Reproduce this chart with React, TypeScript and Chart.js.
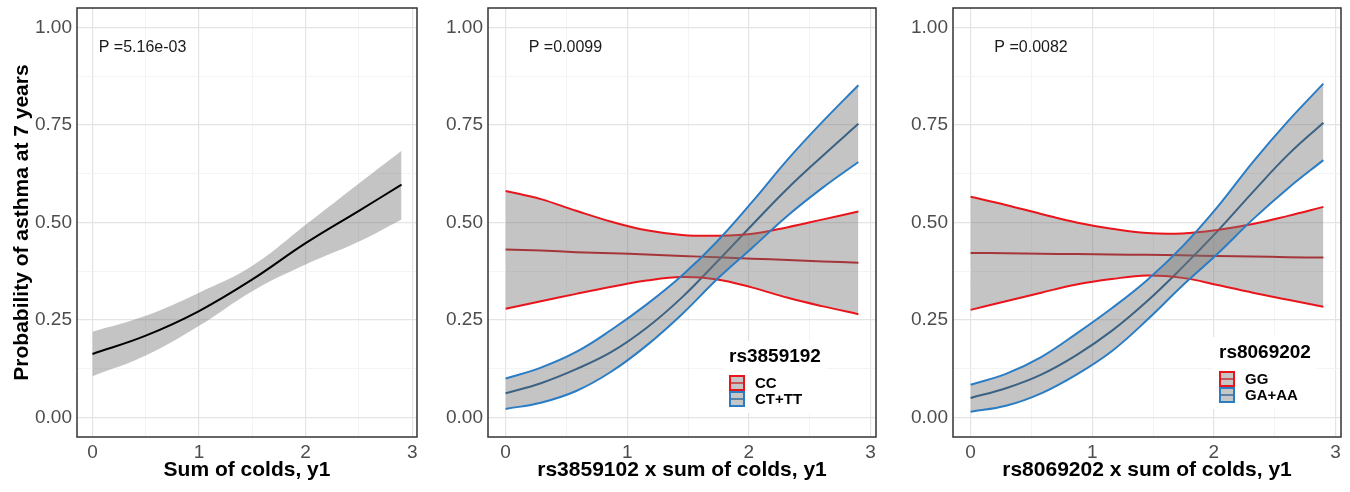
import React, { useEffect, useRef } from "react";
import { Chart, registerables } from "chart.js";

Chart.register(...registerables);

const FONT = '"Liberation Sans", Arial, Helvetica, sans-serif';

// ---------- axes ----------
const Y_MAJOR = [0, 0.25, 0.5, 0.75, 1];
const Y_MINOR = [0.125, 0.375, 0.625, 0.875];
const Y_TICK_LABELS = ["0.00", "0.25", "0.50", "0.75", "1.00"];
const X_MAJOR = [0, 1, 2, 3];
const X_MINOR = [0.5, 1.5, 2.5];
const X_TICK_LABELS = ["0", "1", "2", "3"];

const Y_TITLE = "Probability of asthma at 7 years";
const X_TITLES = [
  "Sum of colds, y1",
  "rs3859102 x sum of colds, y1",
  "rs8069202 x sum of colds, y1",
];
const P_LABELS = ["P =5.16e-03", "P =0.0099", "P =0.0082"];
const P_X = [0.059, 0.19, 0.195];
const P_Y = [0.949, 0.949, 0.949];

// ---------- panel 1 ----------
const P1_X = [0, 0.5, 1, 1.5, 2, 2.5, 2.9];
const P1_MEAN = [0.163, 0.21, 0.273, 0.354, 0.447, 0.53, 0.597];
const P1_UPPER = [0.22, 0.261, 0.32, 0.389, 0.494, 0.6, 0.684];
const P1_LOWER = [0.106, 0.159, 0.235, 0.324, 0.392, 0.451, 0.508];

// ---------- panels 2 & 3 ----------
const X_VALUES = [0, 0.29, 0.58, 0.87, 1.16, 1.45, 1.74, 2.03, 2.32, 2.61, 2.9];

const LEGEND_TITLE_2 = "rs3859192";
const GROUPS_2 = ["CC", "CT+TT"];
const P2_CC_MEAN = [0.431, 0.428, 0.424, 0.421, 0.418, 0.414, 0.411, 0.407, 0.404, 0.4, 0.397];
const P2_CC_UPPER = [0.581, 0.56, 0.53, 0.502, 0.48, 0.468, 0.466, 0.471, 0.488, 0.508, 0.528];
const P2_CC_LOWER = [0.279, 0.298, 0.317, 0.335, 0.351, 0.36, 0.354, 0.333, 0.307, 0.285, 0.265];
const P2_CT_MEAN = [0.062, 0.088, 0.124, 0.168, 0.23, 0.308, 0.4, 0.495, 0.588, 0.672, 0.753];
const P2_CT_UPPER = [0.1, 0.128, 0.168, 0.225, 0.29, 0.364, 0.452, 0.554, 0.662, 0.76, 0.852];
const P2_CT_LOWER = [0.022, 0.038, 0.068, 0.118, 0.185, 0.265, 0.355, 0.436, 0.518, 0.59, 0.655];

const LEGEND_TITLE_3 = "rs8069202";
const GROUPS_3 = ["GG", "GA+AA"];
const P3_GG_MEAN = [0.422, 0.421, 0.42, 0.419, 0.418, 0.417, 0.416, 0.414, 0.413, 0.411, 0.41];
const P3_GG_UPPER = [0.566, 0.545, 0.522, 0.5, 0.484, 0.473, 0.472, 0.481, 0.496, 0.517, 0.54];
const P3_GG_LOWER = [0.276, 0.298, 0.32, 0.341, 0.355, 0.364, 0.358, 0.34, 0.32, 0.302, 0.284];
const P3_GA_MEAN = [0.05, 0.075, 0.11, 0.16, 0.222, 0.298, 0.385, 0.478, 0.578, 0.674, 0.756];
const P3_GA_UPPER = [0.084, 0.112, 0.155, 0.215, 0.28, 0.352, 0.438, 0.54, 0.655, 0.76, 0.856];
const P3_GA_LOWER = [0.015, 0.03, 0.062, 0.11, 0.17, 0.25, 0.338, 0.42, 0.508, 0.588, 0.66];

// ---------- styles ----------
const RED = "#e8161c";
const BLUE = "#2a7dc5";
const RED_MEAN = "#c80c12";
const BLUE_MEAN = "#14568f";
const BAND = "rgba(115,115,115,0.42)";
const KEY_FILL = "#c6c6c6";
const TICK_COLOR = "#4d4d4d";
const GRID_MAJOR = "#e4e4e4";
const GRID_MINOR = "#f1f1f1";

const pts = (xs: number[], ys: number[]) => xs.map((x, i) => ({ x, y: ys[i] }));

const lineDs = (data: any[], color: string, width: number, order: number, fill: any = false) => ({
  data,
  borderColor: color,
  borderWidth: width,
  backgroundColor: BAND,
  fill,
  order,
  pointRadius: 0,
  tension: 0.4,
});

function groupDatasets(xs: number[], a: number[][], b: number[][]) {
  // a / b = [mean, upper, lower]
  return [
    lineDs(pts(xs, a[0]), RED_MEAN, 2, 6),
    lineDs(pts(xs, b[0]), BLUE_MEAN, 2, 5),
    lineDs(pts(xs, a[1]), RED, 2, 4, 3),
    lineDs(pts(xs, a[2]), RED, 2, 3),
    lineDs(pts(xs, b[1]), BLUE, 2, 2, 5),
    lineDs(pts(xs, b[2]), BLUE, 2, 1),
  ];
}

type Legend = { title: string; labels: string[]; colors: string[]; mid: string[]; dx: number; dy: number };
type PanelCfg = {
  left: number;
  width: number;
  yAxisWidth: number;
  padRight: number;
  yTitle?: string;
  xTitle: string;
  pText: string;
  pX: number;
  pY: number;
  datasets: any[];
  legend?: Legend;
};

const PANELS: PanelCfg[] = [
  {
    left: 0,
    width: 432,
    yAxisWidth: 77,
    padRight: 15,
    yTitle: Y_TITLE,
    xTitle: X_TITLES[0],
    pText: P_LABELS[0],
    pX: P_X[0],
    pY: P_Y[0],
    datasets: [
      lineDs(pts(P1_X, P1_UPPER), "rgba(0,0,0,0)", 0, 3, 1),
      lineDs(pts(P1_X, P1_LOWER), "rgba(0,0,0,0)", 0, 2),
      lineDs(pts(P1_X, P1_MEAN), "#000000", 2, 1),
    ],
  },
  {
    left: 432,
    width: 460,
    yAxisWidth: 56,
    padRight: 16,
    xTitle: X_TITLES[1],
    pText: P_LABELS[1],
    pX: P_X[1],
    pY: P_Y[1],
    datasets: groupDatasets(
      X_VALUES,
      [P2_CC_MEAN, P2_CC_UPPER, P2_CC_LOWER],
      [P2_CT_MEAN, P2_CT_UPPER, P2_CT_LOWER]
    ),
    legend: { title: LEGEND_TITLE_2, labels: GROUPS_2, colors: [RED, BLUE], mid: [RED_MEAN, BLUE_MEAN], dx: 241, dy: 349 },
  },
  {
    left: 892,
    width: 458,
    yAxisWidth: 61,
    padRight: 9,
    xTitle: X_TITLES[2],
    pText: P_LABELS[2],
    pX: P_X[2],
    pY: P_Y[2],
    datasets: groupDatasets(
      X_VALUES,
      [P3_GG_MEAN, P3_GG_UPPER, P3_GG_LOWER],
      [P3_GA_MEAN, P3_GA_UPPER, P3_GA_LOWER]
    ),
    legend: { title: LEGEND_TITLE_3, labels: GROUPS_3, colors: [RED, BLUE], mid: [RED_MEAN, BLUE_MEAN], dx: 266, dy: 345 },
  },
];

function Panel({ cfg }: { cfg: PanelCfg }) {
  const ref = useRef<HTMLCanvasElement | null>(null);

  useEffect(() => {
    if (!ref.current) return;

    const decor = {
      id: "decor",
      afterDraw(chart: any) {
        const { ctx, chartArea: a, scales } = chart;
        ctx.save();
        // P value text
        ctx.font = `16px ${FONT}`;
        ctx.fillStyle = "#1a1a1a";
        ctx.textAlign = "left";
        ctx.textBaseline = "middle";
        ctx.fillText(cfg.pText, scales.x.getPixelForValue(cfg.pX), scales.y.getPixelForValue(cfg.pY));

        // legend
        const lg = cfg.legend;
        if (lg) {
          const left = a.left + lg.dx;
          const ty = a.top + lg.dy;
          ctx.font = `bold 19px ${FONT}`;
          const tw = ctx.measureText(lg.title).width;
          const key = 16;
          const keyTop = ty + 18;
          ctx.fillStyle = "#ffffff";
          ctx.fillRect(left - 6, ty - 16, tw + 12, 16 + 18 + key * lg.labels.length + 6);
          ctx.fillStyle = "#000000";
          ctx.fillText(lg.title, left, ty);
          lg.labels.forEach((lab, i) => {
            const y0 = keyTop + i * key;
            ctx.fillStyle = KEY_FILL;
            ctx.fillRect(left, y0, key, key);
            ctx.strokeStyle = lg.mid[i];
            ctx.globalAlpha = 0.6;
            ctx.lineWidth = 2;
            ctx.beginPath();
            ctx.moveTo(left, y0 + key / 2);
            ctx.lineTo(left + key, y0 + key / 2);
            ctx.stroke();
            ctx.globalAlpha = 1;
            ctx.strokeStyle = lg.colors[i];
            ctx.strokeRect(left + 1, y0 + 1, key - 2, key - 2);
            ctx.fillStyle = "#000000";
            ctx.font = `bold 15px ${FONT}`;
            ctx.fillText(lab, left + 26, y0 + key / 2 + 0.5);
          });
        }

        // panel border
        ctx.strokeStyle = "#333333";
        ctx.lineWidth = 1.5;
        ctx.strokeRect(a.left, a.top, a.right - a.left, a.bottom - a.top);
        ctx.restore();
      },
    };

    const isMajorY = (v: number) => Y_MAJOR.some((m) => Math.abs(m - v) < 1e-9);
    const isMajorX = (v: number) => X_MAJOR.some((m) => Math.abs(m - v) < 1e-9);

    const chart = new Chart(ref.current, {
      type: "line",
      data: { datasets: cfg.datasets },
      options: {
        animation: false,
        responsive: false,
        maintainAspectRatio: false,
        events: [],
        layout: { padding: { top: 8, right: cfg.padRight, bottom: 0, left: 0 } },
        plugins: {
          legend: { display: false },
          tooltip: { enabled: false },
          filler: { propagate: false },
        },
        scales: {
          x: {
            type: "linear",
            min: -0.145,
            max: 3.045,
            border: { display: false },
            grid: {
              drawTicks: false,
              color: (c: any) => (isMajorX(c.tick?.value) ? GRID_MAJOR : GRID_MINOR),
              lineWidth: (c: any) => (isMajorX(c.tick?.value) ? 1.2 : 0.8),
            },
            ticks: {
              autoSkip: false,
              maxRotation: 0,
              padding: 4,
              color: TICK_COLOR,
              font: { family: FONT, size: 19 },
              callback: (v: any) => {
                const i = X_MAJOR.findIndex((m) => Math.abs(m - v) < 1e-9);
                return i >= 0 ? X_TICK_LABELS[i] : "";
              },
            },
            afterBuildTicks: (s: any) => {
              s.ticks = [...X_MAJOR, ...X_MINOR].sort((p, q) => p - q).map((value) => ({ value }));
            },
            afterFit: (s: any) => {
              s.height = 55;
              s.paddingLeft = 0;
              s.paddingRight = 0;
            },
            title: {
              display: true,
              text: cfg.xTitle,
              color: "#000000",
              font: { family: FONT, size: 21, weight: "bold" },
              padding: { top: 0, bottom: 9 },
            },
          },
          y: {
            type: "linear",
            min: -0.05,
            max: 1.05,
            border: { display: false },
            grid: {
              drawTicks: false,
              color: (c: any) => (isMajorY(c.tick?.value) ? GRID_MAJOR : GRID_MINOR),
              lineWidth: (c: any) => (isMajorY(c.tick?.value) ? 1.2 : 0.8),
            },
            ticks: {
              autoSkip: false,
              padding: 5,
              color: TICK_COLOR,
              font: { family: FONT, size: 19 },
              callback: (v: any) => {
                const i = Y_MAJOR.findIndex((m) => Math.abs(m - v) < 1e-9);
                return i >= 0 ? Y_TICK_LABELS[i] : "";
              },
            },
            afterBuildTicks: (s: any) => {
              s.ticks = [...Y_MAJOR, ...Y_MINOR].sort((p, q) => p - q).map((value) => ({ value }));
            },
            afterFit: (s: any) => {
              s.width = cfg.yAxisWidth;
              s.paddingTop = 0;
              s.paddingBottom = 0;
            },
            title: {
              display: !!cfg.yTitle,
              text: cfg.yTitle || "",
              color: "#000000",
              font: { family: FONT, size: 21, weight: "bold" },
              padding: { top: 10, bottom: 0 },
            },
          },
        },
      } as any,
      plugins: [decor],
    });

    return () => chart.destroy();
  }, [cfg]);

  return (
    <canvas
      ref={ref}
      width={cfg.width}
      height={492}
      style={{ position: "absolute", left: cfg.left, top: 0, width: cfg.width, height: 492 }}
    />
  );
}

export default function App() {
  return (
    <div
      style={{
        position: "absolute",
        left: 0,
        top: 0,
        width: 1350,
        height: 492,
        background: "#ffffff",
        overflow: "hidden",
      }}
    >
      {PANELS.map((p, i) => (
        <Panel key={i} cfg={p} />
      ))}
    </div>
  );
}
